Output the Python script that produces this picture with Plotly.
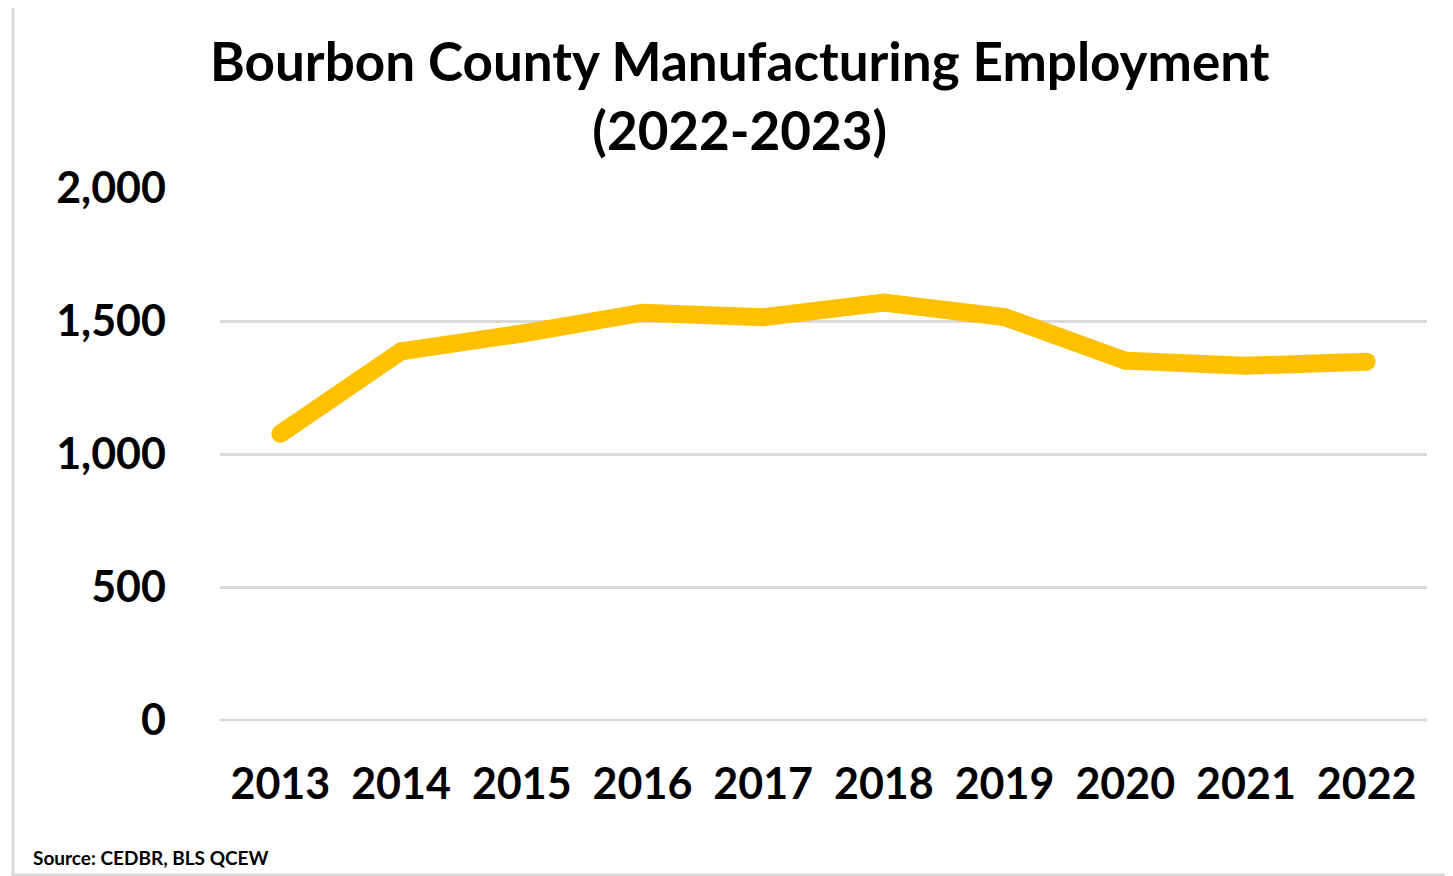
import plotly.graph_objects as go

years = ["2013", "2014", "2015", "2016", "2017", "2018", "2019", "2020", "2021", "2022"]
employment = [1076, 1386, 1453, 1531, 1514, 1569, 1515, 1351, 1332, 1347]
y_ticks = [0, 500, 1000, 1500, 2000]
y_tick_labels = ["0", "500", "1,000", "1,500", "2,000"]

# page has 8px body margin; figure coords = page coords - 8
OFF = 8
W, H = 1453 - OFF, 876 - OFF
L, T = 220 - OFF, 188 - OFF
PW, PH = 1207, 532
R = W - L - PW
B = H - T - PH

def px(x):
    return (x - OFF - L) / PW

def py(y):
    return (T + PH - (y - OFF)) / PH

FONT = "Lato"
GOLD = "#FFC000"
GRID = "#D9D9D9"

fig = go.Figure()
fig.add_trace(go.Scatter(
    x=years, y=employment, mode="lines+markers",
    line=dict(color=GOLD, width=18),
    marker=dict(color=GOLD, size=18, line=dict(width=0)),
    showlegend=False, hoverinfo="x+y",
))

fig.update_layout(
    width=W, height=H,
    margin=dict(l=L, r=R, t=T, b=B),
    paper_bgcolor="white", plot_bgcolor="white",
    font=dict(family=FONT, color="#000000"),
    xaxis=dict(
        type="category", range=[-0.5, 9.5], showgrid=False, showline=False,
        zeroline=False, ticks="", ticklabelstandoff=35,
        tickfont=dict(family=FONT, size=43, color="#000000", weight="bold"),
    ),
    yaxis=dict(
        range=[0, 2000], tickvals=y_ticks, ticktext=y_tick_labels,
        showgrid=True, gridcolor=GRID, gridwidth=2.5, zeroline=False,
        showline=False, ticks="", ticklabelstandoff=53,
        tickfont=dict(family=FONT, size=43, color="#000000", weight="bold"),
    ),
    shapes=[
        dict(type="line", xref="paper", yref="paper", x0=0, x1=1, y0=0, y1=0,
             line=dict(color=GRID, width=2.5), layer="below"),
        dict(type="rect", xref="paper", yref="paper",
             x0=px(13), x1=px(1475), y0=py(5), y1=py(875),
             line=dict(color=GRID, width=3), fillcolor="rgba(0,0,0,0)"),
    ],
    annotations=[
        dict(text="<b>Bourbon County Manufacturing Employment<br>(2022-2023)</b>",
             xref="paper", yref="paper", x=px(740), y=py(95),
             xanchor="center", yanchor="middle", showarrow=False,
             font=dict(family=FONT, size=53, color="#000000")),
        dict(text="<b>Source: CEDBR, BLS QCEW</b>", xref="paper", yref="paper",
             x=px(31), y=py(857), xanchor="left", yanchor="middle", showarrow=False,
             font=dict(family=FONT, size=19, color="#000000")),
    ],
)

fig.write_html("out.html")
